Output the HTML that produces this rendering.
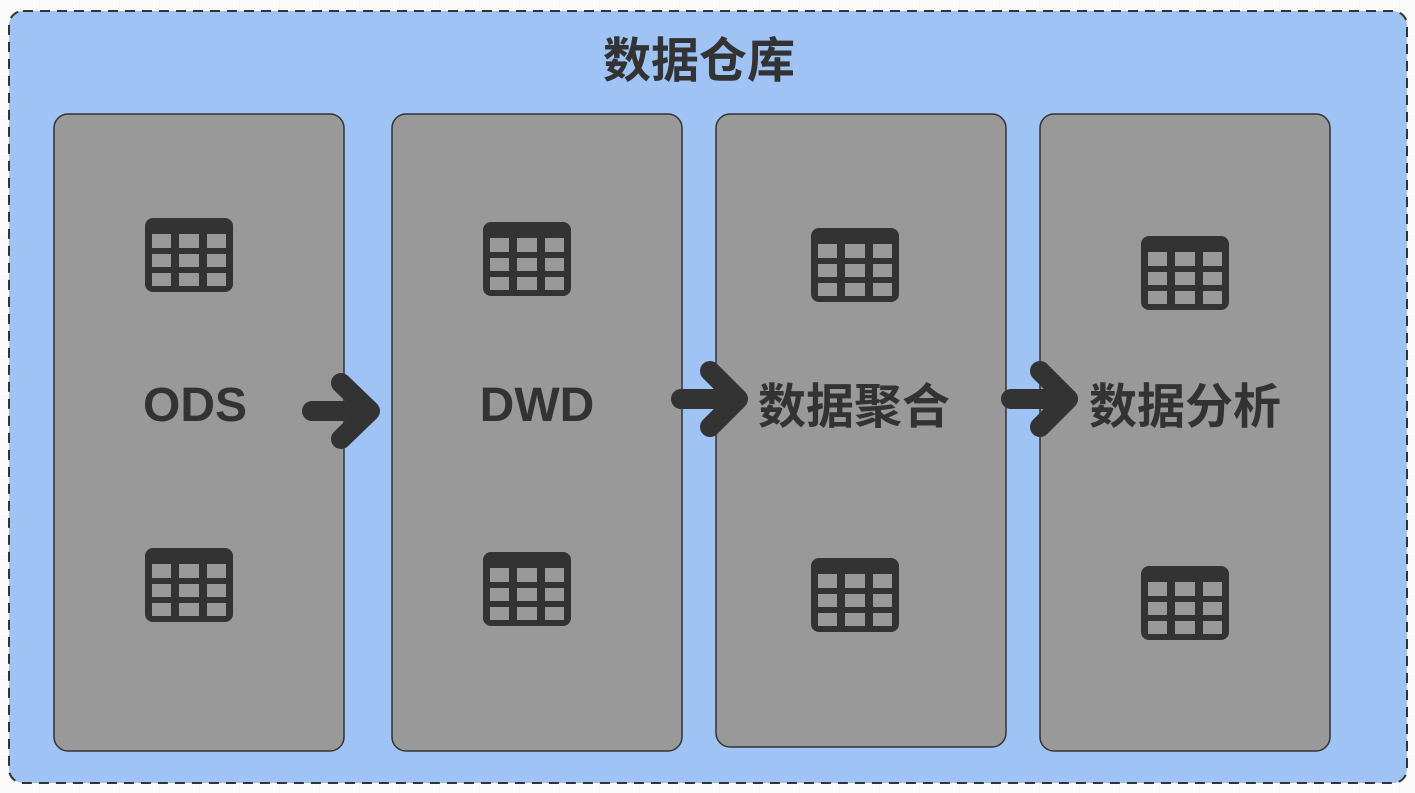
<!DOCTYPE html>
<html><head><meta charset="utf-8"><style>
html,body{margin:0;padding:0;background:#fafafa;}
svg{display:block;}
text{font-family:"Liberation Sans","Noto Sans CJK SC",sans-serif;font-weight:bold;fill:#333;}
</style></head><body>
<svg width="1415" height="793" viewBox="0 0 1415 793" xmlns="http://www.w3.org/2000/svg">
<defs>
<pattern id="g" width="40" height="40" patternUnits="userSpaceOnUse"><path d="M40 0V40M0 40H40" stroke="#eeeeee" stroke-width="1" fill="none"/></pattern>
<g id="tbl">
<rect x="0" y="0" width="88" height="74" rx="8" fill="#333"/>
<g fill="#999">
<rect x="7" y="16" width="19" height="14"/><rect x="34" y="16" width="20" height="14"/><rect x="62" y="16" width="19" height="14"/>
<rect x="7" y="36" width="19" height="13"/><rect x="34" y="36" width="20" height="13"/><rect x="62" y="36" width="19" height="13"/>
<rect x="7" y="55" width="19" height="13"/><rect x="34" y="55" width="20" height="13"/><rect x="62" y="55" width="19" height="13"/>
</g>
</g>
</defs>
<rect width="1415" height="793" fill="url(#g)"/>
<rect x="9" y="11" width="1398" height="772" rx="14" fill="#9fc3f5" stroke="#333" stroke-width="2" stroke-dasharray="10 7"/>
<text x="699" y="77" font-size="48" text-anchor="middle">数据仓库</text>

<g fill="#999" stroke="#333" stroke-width="1.5">
<rect x="54" y="114" width="290" height="637" rx="14"/>
<rect x="392" y="114" width="290" height="637" rx="14"/>
<rect x="716" y="114" width="290" height="633" rx="14"/>
<rect x="1040" y="114" width="290" height="637" rx="14"/>
</g>

<use href="#tbl" x="145" y="218"/><use href="#tbl" x="145" y="548"/>
<use href="#tbl" x="483" y="222"/><use href="#tbl" x="483" y="552"/>
<use href="#tbl" x="811" y="228"/><use href="#tbl" x="811" y="558"/>
<use href="#tbl" x="1141" y="236"/><use href="#tbl" x="1141" y="566"/>

<text x="195" y="421" font-size="48" text-anchor="middle">ODS</text>
<text x="537" y="421" font-size="48" text-anchor="middle">DWD</text>
<text x="854" y="423" font-size="48" text-anchor="middle">数据聚合</text>
<text x="1185" y="423" font-size="48" text-anchor="middle">数据分析</text>

<g stroke="#333" stroke-width="20" stroke-linecap="round" stroke-linejoin="round" fill="none">
<path d="M312 411H368M341 383L370 411L341 439"/>
<path d="M681 399H738M710 371L738 399L710 427"/>
<path d="M1011 399H1067M1040 371L1068 399L1040 427"/>
</g>
</svg>
</body></html>
